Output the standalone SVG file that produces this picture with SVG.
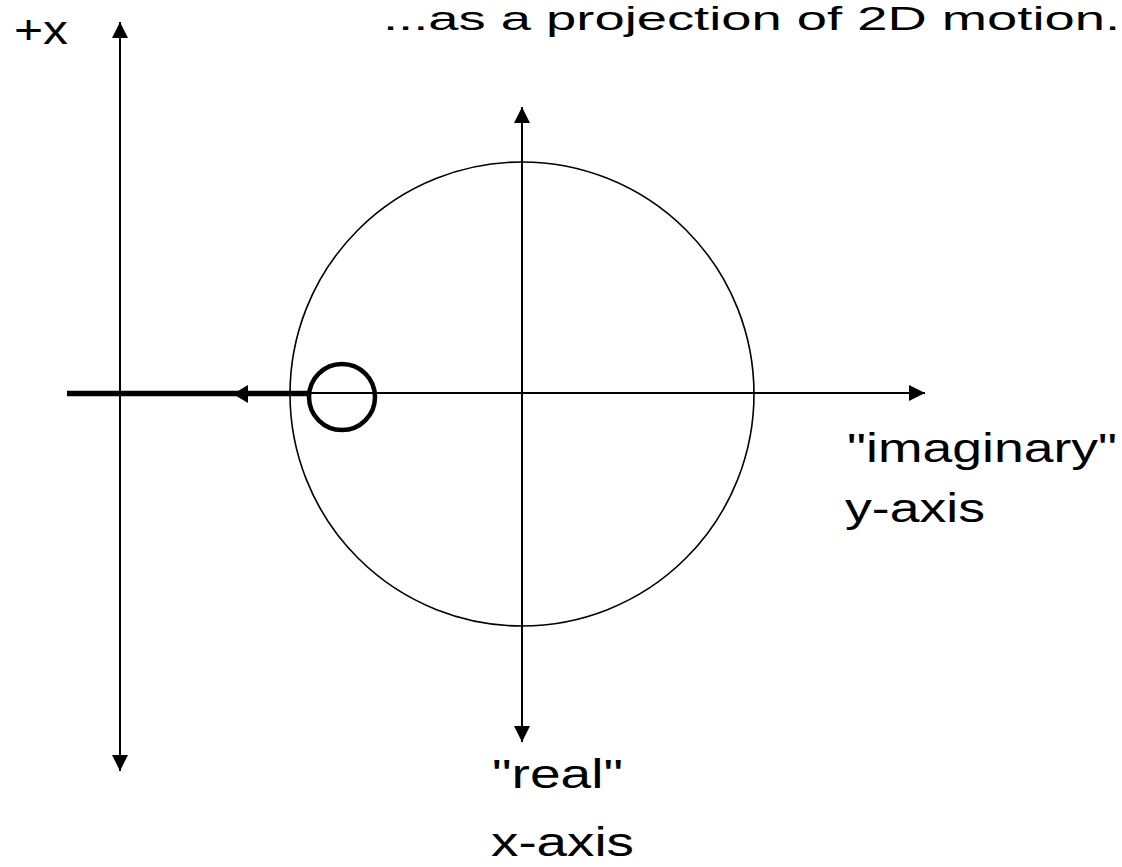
<svg xmlns="http://www.w3.org/2000/svg" width="1122" height="867" viewBox="0 0 1122 867">
  <style>
    .txt { font-family: "Liberation Sans", Arial, sans-serif; fill: #000; }
    .axis { stroke: #000; stroke-width: 2; fill: none; }
    .thin { stroke: #000; stroke-width: 1.6; fill: none; }
    .head { fill: #000; stroke: none; }
  </style>
  <defs>
    <marker id="arr" markerUnits="userSpaceOnUse" markerWidth="18" markerHeight="18" refX="16" refY="8" orient="auto">
      <path d="M0,0 L16,8 L0,16 Z" class="head"/>
    </marker>
  </defs>
  <rect width="1122" height="867" fill="#fff"/>

  <g id="title">
    <text class="txt" x="383" y="30" font-size="34" textLength="737" lengthAdjust="spacingAndGlyphs">...as a projection of 2D motion.</text>
  </g>

  <g id="left-axis">
    <line class="axis" x1="120" y1="755" x2="120" y2="22" marker-end="url(#arr)"/>
    <line class="axis" x1="120" y1="40" x2="120" y2="771" marker-end="url(#arr)"/>
    <text class="txt" x="14" y="44" font-size="41" textLength="54" lengthAdjust="spacingAndGlyphs">+x</text>
  </g>

  <g id="unit-circle">
    <circle cx="522" cy="394" r="232" class="thin"/>
  </g>

  <g id="connectors">
    <line class="axis" x1="522" y1="725" x2="522" y2="107" marker-end="url(#arr)"/>
    <line class="axis" x1="522" y1="125" x2="522" y2="742" marker-end="url(#arr)"/>
    <line class="axis" x1="300" y1="393" x2="925" y2="393" marker-end="url(#arr)"/>
    <line x1="67" y1="393.5" x2="308" y2="393.5" stroke="#000" stroke-width="5.5"/>
    <polygon class="head" points="233,394 248,385 248,403"/>
  </g>

  <g id="point">
    <circle cx="342" cy="397" r="33" fill="none" stroke="#000" stroke-width="4.5"/>
  </g>

  <g id="imag-label">
    <text class="txt" x="847" y="462" font-size="40" textLength="270" lengthAdjust="spacingAndGlyphs">"imaginary"</text>
    <text class="txt" x="845" y="522" font-size="40" textLength="140" lengthAdjust="spacingAndGlyphs">y-axis</text>
  </g>

  <g id="real-label">
    <text class="txt" x="492" y="788" font-size="40" textLength="131" lengthAdjust="spacingAndGlyphs">"real"</text>
    <text class="txt" x="491" y="856" font-size="40" textLength="143" lengthAdjust="spacingAndGlyphs">x-axis</text>
  </g>
</svg>
